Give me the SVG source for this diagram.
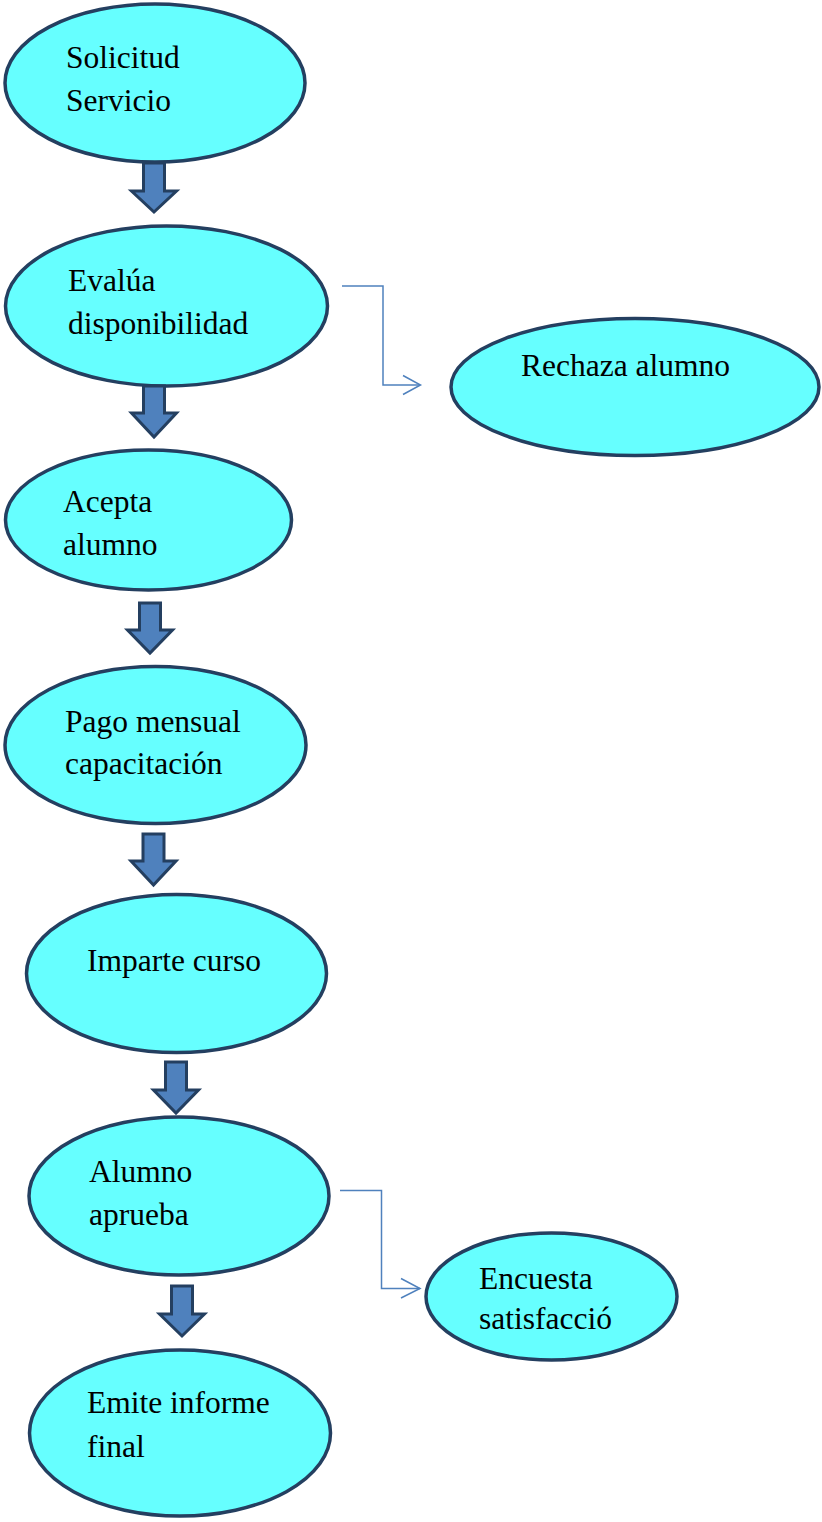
<svg xmlns="http://www.w3.org/2000/svg" width="822" height="1522" viewBox="0 0 822 1522">
<style>
.node ellipse{fill:#66FFFF;stroke:#243F60;stroke-width:3.5}
.node text{font-size:31.5px;fill:#000}
.blk{fill:#4F81BD;stroke:#243F60;stroke-width:3;stroke-linejoin:miter}
.con{fill:none;stroke:#4F81BD;stroke-width:1.5}
</style>
<rect width="822" height="1522" fill="#fff"/>
<g font-family="'Liberation Serif', 'Times New Roman', Times, 'DejaVu Serif', serif">
<g id="n1" class="node"><ellipse cx="155" cy="83" rx="150" ry="79"/><text x="66" y="68">Solicitud</text><text x="66" y="111">Servicio</text></g>
<g id="n2" class="node"><ellipse cx="166.5" cy="306" rx="161" ry="80"/><text x="68" y="291">Evalúa</text><text x="68" y="334">disponibilidad</text></g>
<g id="n3" class="node"><ellipse cx="635" cy="387" rx="184" ry="68.5"/><text x="521" y="376">Rechaza alumno</text></g>
<g id="n4" class="node"><ellipse cx="148.5" cy="520" rx="143" ry="70"/><text x="63" y="512">Acepta</text><text x="63" y="555">alumno</text></g>
<g id="n5" class="node"><ellipse cx="155.5" cy="745" rx="150.5" ry="78.5"/><text x="65" y="732">Pago mensual</text><text x="65" y="774">capacitación</text></g>
<g id="n6" class="node"><ellipse cx="176.5" cy="973.5" rx="150" ry="79"/><text x="87" y="971">Imparte curso</text></g>
<g id="n7" class="node"><ellipse cx="179" cy="1196" rx="150" ry="79"/><text x="89" y="1182">Alumno</text><text x="89" y="1225">aprueba</text></g>
<g id="n8" class="node"><ellipse cx="551.5" cy="1296.5" rx="125.5" ry="63.5"/><text x="479" y="1289">Encuesta</text><text x="479" y="1329">satisfacció</text></g>
<g id="n9" class="node"><ellipse cx="180" cy="1433" rx="150.5" ry="83"/><text x="87" y="1413">Emite informe</text><text x="87" y="1457">final</text></g>
</g>
<g id="connectors">
<path class="blk" d="M143.5,163 H164.5 V191 H176.5 L154,212 L131.5,191 H143.5 Z"/>
<path class="blk" d="M143.5,386 H164.5 V413 H176.5 L154,437 L131.5,413 H143.5 Z"/>
<path class="blk" d="M139.5,603 H160.5 V630 H172.5 L150,653 L127.5,630 H139.5 Z"/>
<path class="blk" d="M143,834 H164 V861 H176 L153.5,885 L131,861 H143 Z"/>
<path class="blk" d="M165.5,1062 H186.5 V1090 H198.5 L176,1113 L153.5,1090 H165.5 Z"/>
<path class="blk" d="M171.5,1286 H192.5 V1314 H204.5 L182,1336 L159.5,1314 H171.5 Z"/>
<path class="con" d="M342,286 H383 V385 H420"/>
<path class="con" d="M403,375.5 L420.5,385 L403,394.5"/>
<path class="con" d="M340,1190.5 H381.5 V1288.5 H420"/>
<path class="con" d="M401,1278.5 L420,1288.5 L401,1298"/>
</g>
</svg>
